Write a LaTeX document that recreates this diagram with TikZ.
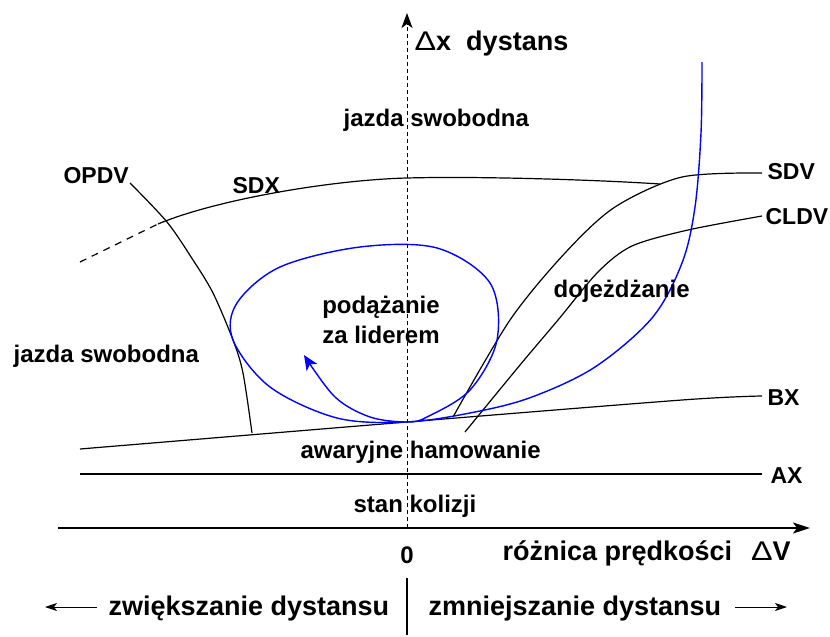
\documentclass[tikz,border=0pt]{standalone}
\usepackage{fontspec}
\setmainfont{Liberation Sans}
\usetikzlibrary{arrows.meta}

\begin{document}
\begin{tikzpicture}[x=1pt,y=-1pt,line width=1.2pt,
  txt/.style={font=\fontsize{24}{28}\selectfont\bfseries,inner sep=0pt,anchor=base west},
  tag/.style={txt,font=\fontsize{23}{27}\selectfont\bfseries},
  bigtxt/.style={txt,font=\fontsize{27}{32}\selectfont\bfseries},
  traj/.style={draw=blue,line width=1.4pt}]
\useasboundingbox (0,0) rectangle (830,637);
% axes
\node[coordinate] (origin) at (407,528) {};
\node[coordinate] (ytip) at (407,13) {};
\node[coordinate] (xleft) at (58,528) {};
\node[coordinate] (xtip) at (810,528) {};
\draw[dash pattern=on 4pt off 3pt,line width=1pt,-{Stealth[length=15pt,width=11pt,inset=4pt]}] (origin) -- (ytip);
\draw[line width=1.4pt,-{Stealth[length=17pt,width=11pt,inset=4pt]}] (xleft) -- (xtip);

% thresholds AX and BX
\node[coordinate] (axleft) at (80,474) {};
\node[coordinate] (axright) at (762,474) {};
\node[coordinate] (bxleft) at (80,449) {};
\node[coordinate] (bxright) at (762,396) {};
\node[coordinate] (eq) at (407,422) {};
\draw (axleft) -- (axright);
\draw plot[smooth] coordinates {(bxleft) (eq) (682,400) (bxright)};

% SDX
\node[coordinate] (sdxdash) at (80,262) {};
\node[coordinate] (sdxleft) at (158,224) {};
\node[coordinate] (sdxtop) at (407,178) {};
\node[coordinate] (sdxright) at (660,184) {};
\draw[dash pattern=on 7pt off 6pt] (sdxdash) -- (sdxleft);
\draw (sdxleft) .. controls (215,200) and (330,180) .. (sdxtop) .. controls (480,176) and (600,180) .. (sdxright);

% OPDV, SDV, CLDV
\node[coordinate] (opdvtop) at (130,183) {};
\node[coordinate] (opdvbot) at (252,433) {};
\draw plot[smooth] coordinates {(opdvtop) (167,222) (193,260) (213,293) (233,340) (243,373) (opdvbot)};
\node[coordinate] (sdvbot) at (453,417) {};
\node[coordinate] (sdvend) at (762,173) {};
\draw plot[smooth] coordinates {(sdvbot) (510,320) (565,253) (615,207) (682,177) (sdvend)};
\node[coordinate] (cldvbot) at (465,432) {};
\node[coordinate] (cldvend) at (762,216) {};
\draw plot[smooth] coordinates {(cldvbot) (520,365) (558,320) (598,272) (632,246) (688,230) (cldvend)};

% trajectory
\node[coordinate] (trajtop) at (702,62) {};
\node[coordinate] (trajtip) at (304,355) {};
\draw[traj,-{Stealth[length=15pt,width=13pt,inset=4pt]}] plot[smooth,tension=0.55] coordinates {(trajtop) (701,133) (695,207) (682,263) (652,318) (595,367) (532,397) (475,412) (eq) (337,418) (270,387) (233,340) (237,303) (280,267) (360,247) (437,248) (490,283) (497,340) (470,390) (427,417) (eq) (370,417) (335,397) (trajtip)};

% labels
\node[bigtxt] (dxlabel) at (414,50) {{\mdseries\scalebox{1.2}[1]{Δ}}x\ \ dystans};
\node[txt] (freetop) at (343,126) {jazda swobodna};
\node[tag] (opdv) at (63,183) {OPDV};
\node[tag] (sdx) at (232,193) {SDX};
\node[tag] (sdv) at (767,179) {SDV};
\node[tag] (cldv) at (765,224) {CLDV};
\node[txt] (closing) at (553,297) {dojeżdżanie};
\node[txt,anchor=base] (following) at (381,313) {podążanie};
\node[txt,anchor=base] (leader) at (381,343) {za liderem};
\node[txt] (freeleft) at (13,362) {jazda swobodna};
\node[tag] (bx) at (767,405) {BX};
\node[txt] (braking) at (300,458) {awaryjne hamowanie};
\node[tag] (ax) at (770,483) {AX};
\node[txt] (collision) at (353,512) {stan kolizji};
\node[txt,anchor=base] (zero) at (407,563) {0};
\node[bigtxt] (dvlabel) at (502,560) {różnica prędkości\hspace{0.7em}{\mdseries\scalebox{1.2}[1]{Δ}}V};

% directions
\node[bigtxt] (farther) at (108,615) {zwiększanie dystansu};
\node[bigtxt] (closer) at (428,615) {zmniejszanie dystansu};
\node[coordinate] (septop) at (407,578) {};
\node[coordinate] (sepbot) at (407,635) {};
\node[coordinate] (leftstart) at (97,607) {};
\node[coordinate] (leftend) at (45,607) {};
\node[coordinate] (rightstart) at (735,607) {};
\node[coordinate] (rightend) at (787,607) {};
\draw (septop) -- (sepbot);
\draw[line width=1pt,-{Stealth[length=12pt,width=8pt,inset=3pt]}] (leftstart) -- (leftend);
\draw[line width=1pt,-{Stealth[length=12pt,width=8pt,inset=3pt]}] (rightstart) -- (rightend);
\end{tikzpicture}
\end{document}
